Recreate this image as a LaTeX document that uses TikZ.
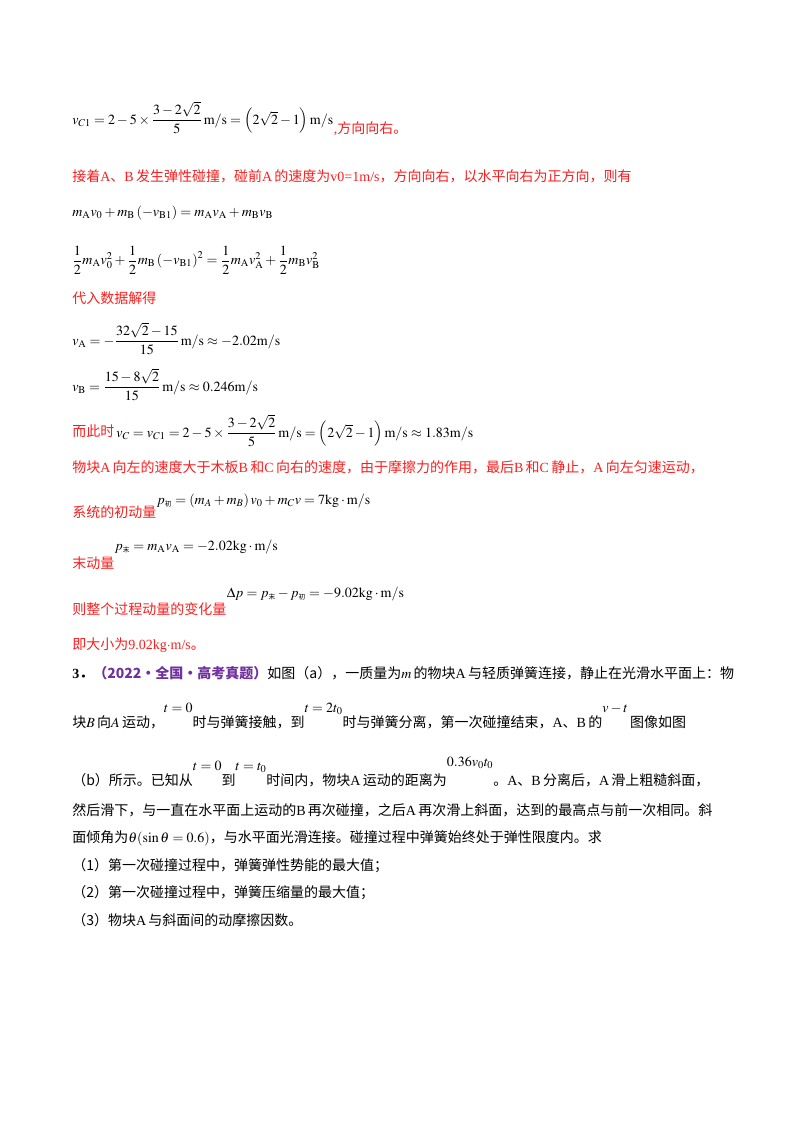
\documentclass[tikz,border=0pt]{standalone}
\usepackage{amsmath}
\usepackage{mathptmx}
\usepackage[no-math]{fontspec}
\setmainfont{Liberation Serif}
\newfontfamily\cjk{Noto Sans CJK SC}
\definecolor{myred}{RGB}{250,30,30}
\definecolor{mypurple}{RGB}{112,48,160}
\newcommand{\zh}[1]{{\cjk #1}}
\newcommand{\ms}{\mathrm{m}/\mathrm{s}}
\begin{document}
\begin{tikzpicture}[x=0.75pt,y=-0.75pt,
  t/.style={anchor=west,inner sep=0pt,font=\fontsize{10.5}{13}\selectfont},
  r/.style={t,text=myred}]
\useasboundingbox (0,0) rectangle (800,1132);
\node[t] (e1) at (72,118) {$v_{C1}=2-5\times\dfrac{3-2\sqrt2}{5}\,\ms=\left(2\sqrt2-1\right)\ms$};
\node[r] (e1b) at (e1.east) [yshift=-8pt] {,\zh{方向向右。}};
\node[r] (l2) at (72,176) {\zh{接着}A\zh{、}B\,\zh{发生弹性碰撞，碰前}A\,\zh{的速度为}v0=1m/s\zh{，方向向右，以水平向右为正方向，则有}};
\node[t] (e2) at (72,213) {$m_{\mathrm A}v_0+m_{\mathrm B}\left(-v_{\mathrm{B1}}\right)=m_{\mathrm A}v_{\mathrm A}+m_{\mathrm B}v_{\mathrm B}$};
\node[t] (e3) at (72,260) {$\dfrac12m_{\mathrm A}v_0^2+\dfrac12m_{\mathrm B}\left(-v_{\mathrm{B1}}\right)^2=\dfrac12m_{\mathrm A}v_{\mathrm A}^2+\dfrac12m_{\mathrm B}v_{\mathrm B}^2$};
\node[r] (l3) at (72,298) {\zh{代入数据解得}};
\node[t] (e4) at (72,339) {$v_{\mathrm A}=-\dfrac{32\sqrt2-15}{15}\,\ms\approx-2.02\ms$};
\node[t] (e5) at (72,385) {$v_{\mathrm B}=\dfrac{15-8\sqrt2}{15}\,\ms\approx0.246\ms$};
\node[r] (l4) at (72,431) {\zh{而此时}};
\node[t] (e6) at (l4.east) {$\,v_{C}=v_{C1}=2-5\times\dfrac{3-2\sqrt2}{5}\,\ms=\left(2\sqrt2-1\right)\ms\approx1.83\ms$};
\node[r] (l5) at (72,467) {\zh{物块}A\,\zh{向左的速度大于木板}B\,\zh{和}C\,\zh{向右的速度，由于摩擦力的作用，最后}B\,\zh{和}C\,\zh{静止，}A\,\zh{向左匀速运动，}};
\node[r] (l6) at (72,512) {\zh{系统的初动量}};
\node[t] (e7) at (l6.east) [yshift=8pt] {$p_{\text{\zh{\tiny 初}}}=\left(m_A+m_B\right)v_0+m_Cv=7\mathrm{kg}\cdot\ms$};
\node[r] (l7) at (72,563) {\zh{末动量}};
\node[t] (e8) at (l7.east) [yshift=12pt] {$p_{\text{\zh{\tiny 末}}}=m_{\mathrm A}v_{\mathrm A}=-2.02\mathrm{kg}\cdot\ms$};
\node[r] (l8) at (72,609) {\zh{则整个过程动量的变化量}};
\node[t] (e9) at (l8.east) [yshift=11pt] {$\Delta p=p_{\text{\zh{\tiny 末}}}-p_{\text{\zh{\tiny 初}}}=-9.02\mathrm{kg}\cdot\ms$};
\node[r] (l9) at (72,645) {\zh{即大小为}9.02kg$\cdot$m/s\zh{。}};
\node[t] (q1) at (72,673) {\textbf{3}\zh{\textbf{．}}\textcolor{mypurple}{\zh{\textbf{（2022·全国·高考真题）}}}\zh{如图（a），一质量为}$m$\,\zh{的物块}A\,\zh{与轻质弹簧连接，静止在光滑水平面上：物}};
\node[t] (q2) at (72,716) {\zh{块}$B$\,\zh{向}$A$\,\zh{运动，}\raisebox{11pt}{$t=0$}\zh{时与弹簧接触，到}\raisebox{11pt}{$t=2t_0$}\zh{时与弹簧分离，第一次碰撞结束，}A\zh{、}B\,\zh{的}\raisebox{11pt}{$v-t$}\,\zh{图像如图}};
\node[t] (q3) at (72,772) {\zh{（b）所示。已知从}\raisebox{11pt}{$t=0$}\zh{到}\raisebox{11pt}{$t=t_0$}\zh{时间内，物块}A\,\zh{运动的距离为}\raisebox{14pt}{$0.36v_0t_0$}\zh{。}A\zh{、}B\,\zh{分离后，}A\,\zh{滑上粗糙斜面，}};
\node[t] (q4) at (72,810) {\zh{然后滑下，与一直在水平面上运动的}B\,\zh{再次碰撞，之后}A\,\zh{再次滑上斜面，达到的最高点与前一次相同。斜}};
\node[t] (q5) at (72,838) {\zh{面倾角为}$\theta(\sin\theta=0.6)$\zh{，与水平面光滑连接。碰撞过程中弹簧始终处于弹性限度内。求}};
\node[t] (q6) at (72,866) {\zh{（1）第一次碰撞过程中，弹簧弹性势能的最大值；}};
\node[t] (q7) at (72,893) {\zh{（2）第一次碰撞过程中，弹簧压缩量的最大值；}};
\node[t] (q8) at (72,920) {\zh{（3）物块}A\,\zh{与斜面间的动摩擦因数。}};
\end{tikzpicture}
\end{document}
